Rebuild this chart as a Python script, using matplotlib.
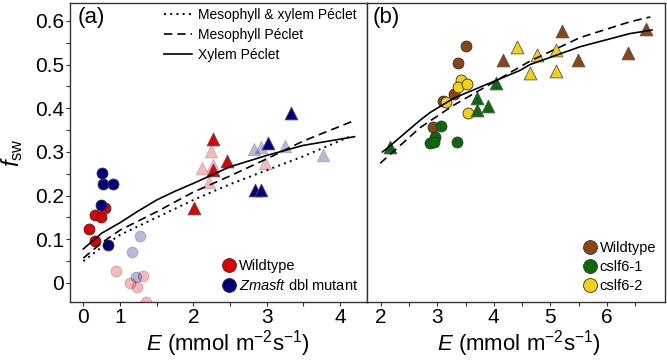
import matplotlib
matplotlib.use('Agg')
import matplotlib.pyplot as plt
import numpy as np
from matplotlib.lines import Line2D

plt.rcParams['font.family'] = ['Liberation Sans', 'DejaVu Sans']
plt.rcParams['mathtext.fontset'] = 'custom'
plt.rcParams['mathtext.rm'] = 'Liberation Sans'
plt.rcParams['mathtext.it'] = 'Liberation Sans:italic'

# ---- panel (a) data ----
wt_circ_E = [0.16, 0.32, 0.48, 0.59, 0.32]
wt_circ_f = [0.123, 0.156, 0.152, 0.171, 0.097]
mut_circ_E = [0.50, 0.54, 0.80, 0.47, 0.68]
mut_circ_f = [0.252, 0.227, 0.227, 0.178, 0.087]
wt_circ_fd_E = [0.89, 1.14, 1.31, 1.23, 1.36]
wt_circ_fd_f = [0.028, 0.001, 0.016, -0.010, -0.043]
mut_circ_fd_E = [1.27, 1.17, 1.22]
mut_circ_fd_f = [0.108, 0.070, 0.013]
wt_tri_E = [2.27, 2.46, 2.27, 2.01]
wt_tri_f = [0.329, 0.280, 0.259, 0.171]
wt_tri_fd_E = [2.24, 2.12, 2.27, 2.21, 2.98]
wt_tri_fd_f = [0.303, 0.264, 0.270, 0.232, 0.275]
mut_tri_E = [3.33, 3.02, 2.84, 2.93]
mut_tri_f = [0.390, 0.321, 0.214, 0.214]
mut_tri_fd_E = [2.83, 2.93, 3.25, 3.77]
mut_tri_fd_f = [0.307, 0.311, 0.313, 0.293]

xyl_E = [0, 0.5, 1.0, 1.25, 1.5, 1.75, 2.0, 2.5, 3.0, 3.5, 4.2]
xyl_f = [0.078, 0.114, 0.138, 0.165, 0.190, 0.210, 0.228, 0.266, 0.292, 0.315, 0.335]
mes_E = [0, 0.5, 1.0, 1.5, 2.0, 2.5, 3.0, 3.5, 4.2]
mes_f = [0.057, 0.092, 0.121, 0.163, 0.208, 0.245, 0.284, 0.325, 0.372]
both_E = [0, 0.5, 1.0, 1.5, 2.0, 2.5, 3.0, 3.5, 4.15]
both_f = [0.050, 0.082, 0.110, 0.150, 0.190, 0.226, 0.258, 0.290, 0.336]

# ---- panel (b) data ----
b_wt_circ_E = [3.50, 3.37, 3.29, 3.11, 2.93]
b_wt_circ_f = [0.542, 0.503, 0.432, 0.417, 0.356]
b_c1_circ_E = [3.06, 2.96, 2.87, 2.95, 3.35]
b_c1_circ_f = [0.359, 0.335, 0.320, 0.323, 0.323]
b_c2_circ_E = [3.42, 3.37, 3.53, 3.16, 3.55]
b_c2_circ_f = [0.465, 0.449, 0.455, 0.415, 0.390]
b_wt_tri_E = [4.17, 5.21, 5.49, 6.37, 6.70]
b_wt_tri_f = [0.510, 0.576, 0.510, 0.526, 0.582]
b_c1_tri_E = [4.04, 3.71, 3.90, 3.71, 2.16]
b_c1_tri_f = [0.458, 0.423, 0.405, 0.395, 0.311]
b_c2_tri_E = [4.41, 4.76, 5.10, 4.64, 5.10]
b_c2_tri_f = [0.540, 0.521, 0.533, 0.481, 0.485]

b_xyl_E = [2.03, 2.11, 2.70, 2.87, 3.29, 3.88, 4.47, 4.64, 5.53, 6.41, 6.80]
b_xyl_f = [0.300, 0.308, 0.373, 0.390, 0.423, 0.455, 0.487, 0.500, 0.541, 0.571, 0.579]
b_mes_E = [1.99, 2.70, 3.29, 3.88, 4.64, 5.53, 6.41, 6.77]
b_mes_f = [0.274, 0.356, 0.407, 0.451, 0.508, 0.562, 0.598, 0.609]

red = '#e00000'
navy = '#000080'
brown = '#8b4513'
green = '#0a6a0a'
yellow = '#f5d20f'


# x axis of panel (a) is squeezed between 0 and 1
def fwd(x):
    x = np.asarray(x, dtype=float)
    return np.where(x < 1, 0.5 + 0.5 * x, x)


def inv(t):
    t = np.asarray(t, dtype=float)
    return np.where(t < 1, 2 * t - 1, t)


fig = plt.figure(figsize=(6.67, 3.6), dpi=100)
axA = fig.add_axes([70 / 667, 58 / 360, 297 / 667, 299 / 360])
axB = fig.add_axes([367 / 667, 58 / 360, 298 / 667, 299 / 360])
axA.set_xscale('function', functions=(fwd, inv))

circ = dict(marker='o', s=62, linewidths=0.6, edgecolors='#333333', zorder=3)
tri = dict(marker='^', s=85, linewidths=0.6, edgecolors='#555555', zorder=3)

# panel (a)
axA.scatter(wt_circ_fd_E, wt_circ_fd_f, color=red, alpha=0.28, **circ)
axA.scatter(mut_circ_fd_E, mut_circ_fd_f, color=navy, alpha=0.28, **circ)
axA.scatter(wt_tri_fd_E, wt_tri_fd_f, color=red, alpha=0.28, **tri)
axA.scatter(mut_tri_fd_E, mut_tri_fd_f, color=navy, alpha=0.28, **tri)
axA.scatter(wt_circ_E, wt_circ_f, color=red, **circ)
axA.scatter(mut_circ_E, mut_circ_f, color=navy, **circ)
axA.scatter(wt_tri_E, wt_tri_f, color=red, **tri)
axA.scatter(mut_tri_E, mut_tri_f, color=navy, **tri)

axA.plot(both_E, both_f, color='black', ls=(0, (1, 2.2)), lw=1.4, zorder=4)
axA.plot(mes_E, mes_f, color='black', ls=(0, (5, 3)), lw=1.2, zorder=4)
axA.plot(xyl_E, xyl_f, color='black', ls='-', lw=1.2, zorder=4)

# panel (b)
axB.scatter(b_wt_circ_E, b_wt_circ_f, color=brown, **circ)
axB.scatter(b_c2_circ_E, b_c2_circ_f, color=yellow, **circ)
axB.scatter(b_c1_circ_E, b_c1_circ_f, color=green, **circ)
axB.scatter(b_wt_tri_E, b_wt_tri_f, color=brown, **tri)
axB.scatter(b_c1_tri_E, b_c1_tri_f, color=green, **tri)
axB.scatter(b_c2_tri_E, b_c2_tri_f, color=yellow, **tri)
axB.plot(b_mes_E, b_mes_f, color='black', ls=(0, (5, 3)), lw=1.2, zorder=4)
axB.plot(b_xyl_E, b_xyl_f, color='black', ls='-', lw=1.2, zorder=4)

# axes setup
for ax in (axA, axB):
    ax.set_ylim(-0.0435, 0.641)
    for sp in ax.spines.values():
        sp.set_color('#333333')
        sp.set_linewidth(1.0)
    ax.tick_params(which='both', direction='out', length=3, width=0.8,
                   color='#333333', labelsize=15, pad=1.5)

axA.set_xlim(-0.364, 4.37)
axA.set_xticks([0, 1, 2, 3, 4])
axA.set_xticks([1.5, 2.5, 3.5], minor=True)
axA.set_xticklabels(['0', '1', '2', '3', '4'])
axA.set_yticks([0, 0.1, 0.2, 0.3, 0.4, 0.5, 0.6])
axA.set_yticklabels(['0', '0.1', '0.2', '0.3', '0.4', '0.5', '0.6'])
axA.set_yticks(np.arange(0.05, 0.64, 0.1), minor=True)

axB.set_xlim(1.757, 7.03)
axB.set_xticks([2, 3, 4, 5, 6])
axB.set_xticks([2.5, 3.5, 4.5, 5.5, 6.5], minor=True)
axB.set_yticks([])
axB.tick_params(axis='y', which='both', left=False, labelleft=False)

xlab = '$E$ (mmol m$^{-2}$s$^{-1}$)'
axA.set_xlabel(xlab, fontsize=16)
axB.set_xlabel(xlab, fontsize=16)
axA.xaxis.set_label_coords(0.53, -0.088)
axB.xaxis.set_label_coords(0.51, -0.088)
axA.set_ylabel('$f_{\\rm sw}$', fontsize=17)
axA.yaxis.set_label_coords(-0.15, 0.5)

axA.text(0.025, 0.985, '(a)', transform=axA.transAxes, fontsize=16, va='top', ha='left')
axB.text(0.018, 0.985, '(b)', transform=axB.transAxes, fontsize=16, va='top', ha='left')

# legends
line_handles = [
    Line2D([], [], color='black', ls=(0, (1, 2.2)), lw=1.4, label='Mesophyll & xylem Péclet'),
    Line2D([], [], color='black', ls=(0, (5, 3)), lw=1.2, label='Mesophyll Péclet'),
    Line2D([], [], color='black', ls='-', lw=1.2, label='Xylem Péclet'),
]
legL = axA.legend(handles=line_handles, loc='upper left', bbox_to_anchor=(0.29, 1.01),
                  frameon=False, fontsize=10, handlelength=2.0, handletextpad=0.4,
                  labelspacing=0.42, borderaxespad=0.2)
axA.add_artist(legL)

mk = dict(marker='o', ls='none', markersize=10, markeredgecolor='#333333', markeredgewidth=0.6)
legA = axA.legend(handles=[Line2D([], [], color=red, label='Wildtype', **mk),
                           Line2D([], [], color=navy, label='$\\it{Zmasft}$ dbl mutant', **mk)],
                  loc='lower right', bbox_to_anchor=(1.0, 0.0), frameon=False, fontsize=10.5,
                  handlelength=0.8, handletextpad=0.3, labelspacing=0.35, borderaxespad=0.2)

legB = axB.legend(handles=[Line2D([], [], color=brown, label='Wildtype', **mk),
                           Line2D([], [], color=green, label='cslf6-1', **mk),
                           Line2D([], [], color=yellow, label='cslf6-2', **mk)],
                  loc='lower right', bbox_to_anchor=(1.0, 0.0), frameon=False, fontsize=10.5,
                  handlelength=0.8, handletextpad=0.3, labelspacing=0.35, borderaxespad=0.2)

fig.savefig('out.png', dpi=100)
